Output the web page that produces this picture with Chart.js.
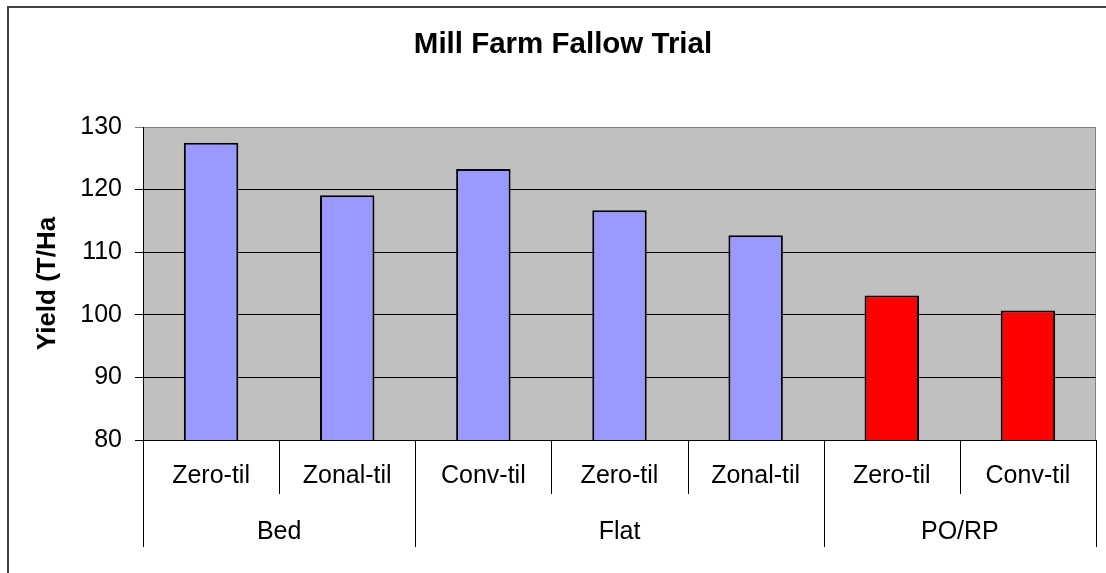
<html>
<head>
<title>Mill Farm Fallow Trial</title>
<style>
  body { margin: 0; background: #fff; font-family: "Liberation Sans", Arial, sans-serif; }
  #wrap { position: relative; width: 1106px; height: 573px; }
</style>
</head>
<body>
<div id="wrap"><canvas id="chart" width="1106" height="573"></canvas></div>
<script src="https://cdn.jsdelivr.net/npm/chart.js"></script>
<script>
var categories = ['Zero-til', 'Zonal-til', 'Conv-til', 'Zero-til', 'Zonal-til', 'Zero-til', 'Conv-til'];
var groups = ['Bed', 'Flat', 'PO/RP'];
var groupSizes = [2, 3, 2];
var yields = [127.5, 119.1, 123.3, 116.7, 112.7, 103.1, 100.7];
var barColors = ['#9999FF', '#9999FF', '#9999FF', '#9999FF', '#9999FF', '#FF0000', '#FF0000'];
var yTicks = [80, 90, 100, 110, 120, 130];
var chartTitle = 'Mill Farm Fallow Trial';

var FONT = '"Liberation Sans", Arial, sans-serif';

// grey plot background, frame, outer border, title
var backdrop = {
  id: 'backdrop',
  beforeDraw: function (chart) {
    var c = chart.ctx, a = chart.chartArea;
    c.save();
    c.fillStyle = '#C0C0C0';
    c.fillRect(a.left, a.top, a.right - a.left, a.bottom - a.top);
    c.strokeStyle = '#808080';
    c.lineWidth = 1;
    c.strokeRect(a.left + 0.5, a.top + 0.5, a.right - a.left - 1, a.bottom - a.top);
    // outer chart border (only top and left visible, the rest is cut off)
    c.strokeStyle = '#404040';
    c.lineWidth = 2;
    c.beginPath();
    c.moveTo(8, 600);
    c.lineTo(8, 7);
    c.lineTo(1200, 7);
    c.stroke();
    // title is centred on the full (wider) chart object
    c.fillStyle = '#000';
    c.font = 'bold 29.5px ' + FONT;
    c.textAlign = 'center';
    c.textBaseline = 'middle';
    c.fillText(chartTitle, 563, 45);
    c.restore();
  }
};

// two-level category axis: dividers and group names
var groupAxis = {
  id: 'groupAxis',
  afterDraw: function (chart) {
    var c = chart.ctx, x = chart.scales.x, a = chart.chartArea;
    var half = (x.getPixelForValue(1) - x.getPixelForValue(0)) / 2;
    c.save();
    c.strokeStyle = '#000';
    c.lineWidth = 1;
    var bounds = [0];
    var n = 0;
    groupSizes.forEach(function (s) { n += s; bounds.push(n); });
    for (var i = 0; i <= categories.length; i++) {
      var px = Math.round(x.getPixelForValue(i) - half) + 0.5;
      var isGroup = bounds.indexOf(i) >= 0;
      c.beginPath();
      c.moveTo(px, a.bottom);
      c.lineTo(px, isGroup ? a.bottom + 107 : a.bottom + 54);
      c.stroke();
    }
    c.fillStyle = '#000';
    c.font = '25px ' + FONT;
    c.textAlign = 'center';
    c.textBaseline = 'middle';
    for (var g = 0; g < groups.length; g++) {
      var l = x.getPixelForValue(bounds[g]) - half;
      var r = x.getPixelForValue(bounds[g + 1]) - half;
      c.fillText(groups[g], (l + r) / 2, a.bottom + 92);
    }
    c.restore();
  }
};

var ctx = document.getElementById('chart').getContext('2d');
var chart = new Chart(ctx, {
  type: 'bar',
  data: {
    labels: categories,
    datasets: [{
      label: 'Yield',
      data: yields,
      backgroundColor: barColors,
      borderColor: '#000',
      borderWidth: 2,
      categoryPercentage: 1,
      barPercentage: 0.4
    }]
  },
  options: {
    responsive: false,
    animation: false,
    layout: { padding: { left: 0, right: 10, top: 127, bottom: 0 } },
    plugins: {
      legend: { display: false },
      tooltip: { enabled: false },
      title: { display: false }
    },
    scales: {
      x: {
        grid: { display: false, drawTicks: false },
        border: { display: true, color: '#000', width: 1 },
        ticks: { color: '#000', font: { family: FONT, size: 25 }, padding: 21, maxRotation: 0, autoSkip: false },
        afterFit: function (s) { s.height = 133; }
      },
      y: {
        min: 80,
        max: 130,
        afterBuildTicks: function (s) { s.ticks = yTicks.map(function (v) { return { value: v }; }); },
        grid: {
          color: function (c) { return c.tick && c.tick.value === 130 ? '#808080' : '#000'; },
          lineWidth: 1, tickLength: 8, drawTicks: true
        },
        border: { display: true, color: '#000', width: 1 },
        ticks: { color: '#000', font: { family: FONT, size: 25 }, padding: 13 },
        title: {
          display: true,
          text: 'Yield (T/Ha',
          color: '#000',
          font: { family: FONT, size: 26, weight: 'bold' },
          padding: { top: 32, bottom: 0 }
        },
        afterFit: function (s) { s.width = 143; }
      }
    }
  },
  plugins: [backdrop, groupAxis]
});
</script>
</body>
</html>
